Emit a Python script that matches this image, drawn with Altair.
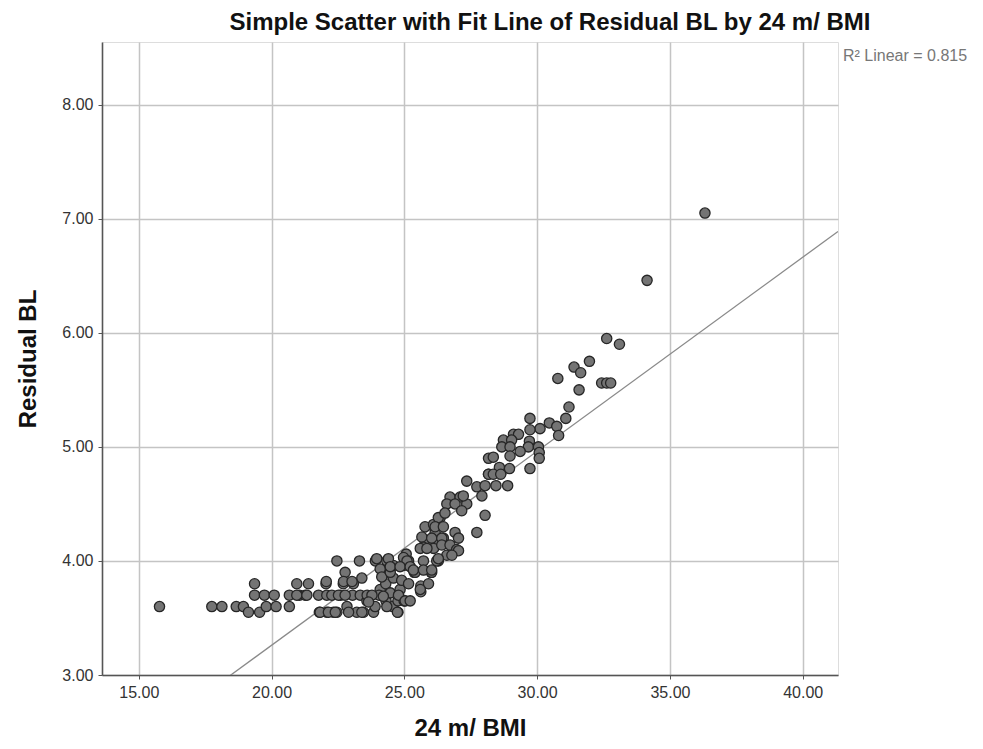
import altair as alt
import pandas as pd

# ---- data ----
bmi = [
    15.78, 17.75, 18.13, 18.67, 18.94, 19.13, 19.55, 19.36, 19.36, 19.73, 19.80, 20.10, 20.17, 20.67, 20.67,
    20.95, 21.05, 21.39, 21.27, 21.77, 21.80, 22.05, 22.08, 22.08, 22.33, 22.46, 22.46, 22.77, 22.60, 22.70,
    22.84, 23.05, 23.08, 23.31, 23.40, 23.21, 23.46, 23.34, 23.59, 23.60, 23.84, 23.90, 23.91, 24.09, 24.05,
    24.34, 24.30, 24.30, 24.31, 24.47, 24.59, 24.57, 24.76, 24.76, 24.84, 24.90, 24.97, 25.07, 25.16, 25.16,
    24.99, 25.37, 25.62, 25.62, 25.72, 26.01, 25.78, 25.66, 25.78, 26.10, 26.16, 26.10, 26.28, 26.35, 26.47,
    20.95, 21.33, 22.27, 22.52, 22.77, 23.78, 24.21, 24.78, 25.03, 21.83, 22.14, 22.40, 22.90, 23.40, 24.34,
    24.74, 23.65, 24.09, 24.15, 24.47, 24.59, 25.41, 26.03, 26.22, 25.91, 25.60, 25.22, 25.72, 26.10, 26.47,
    26.60, 22.71, 23.03, 22.06,
    27.35, 27.73, 28.04, 28.17, 28.17, 26.72, 27.10, 26.60, 26.91, 27.35, 27.16, 28.04, 26.28, 26.53, 27.73,
    26.16, 26.47, 26.03, 26.41, 26.91, 27.04, 25.60, 25.85, 26.41, 26.72, 26.97, 27.04, 26.79, 26.28, 24.97,
    25.10, 23.96, 24.40, 24.47, 24.84, 25.22, 25.34, 25.72, 26.03,
    32.62, 33.10, 31.97, 31.39, 31.64, 30.78, 32.43, 32.62, 32.77, 31.58, 31.20, 31.08, 29.73, 30.46, 30.11,
    29.73, 30.74, 30.81, 29.11, 29.30, 28.73, 29.04, 28.67, 28.98, 29.71, 29.67, 30.05, 30.08, 30.08, 29.36,
    28.98, 28.35, 28.58, 28.96, 29.73, 28.17, 28.35, 28.63, 28.89, 28.45, 27.92, 27.22,
    34.14, 36.32,
]
resid = [
    3.60, 3.60, 3.60, 3.60, 3.60, 3.55, 3.55, 3.80, 3.70, 3.70, 3.60, 3.70, 3.60, 3.70, 3.60,
    3.80, 3.70, 3.80, 3.70, 3.70, 3.55, 3.80, 3.70, 3.55, 3.55, 3.55, 4.00, 3.90, 3.70, 3.80,
    3.60, 3.70, 3.80, 4.00, 3.85, 3.55, 3.55, 3.70, 3.65, 3.70, 3.55, 3.60, 4.00, 3.75, 3.70,
    4.00, 3.90, 3.80, 3.65, 3.72, 3.85, 3.60, 3.55, 3.65, 3.75, 3.83, 3.96, 4.06, 4.00, 3.80,
    3.65, 3.90, 3.78, 3.73, 4.00, 3.90, 4.17, 4.21, 4.30, 4.32, 4.25, 4.16, 4.00, 4.38, 4.20,
    3.70, 3.70, 3.70, 3.70, 3.70, 3.70, 3.69, 3.70, 3.65, 3.55, 3.55, 3.55, 3.55, 3.55, 3.60,
    3.55, 3.64, 3.93, 3.86, 3.90, 3.96, 3.90, 3.90, 4.00, 3.80, 3.75, 3.65, 4.12, 4.11, 4.15,
    4.05, 3.82, 3.82, 3.82,
    4.70, 4.65, 4.66, 4.90, 4.76, 4.56, 4.56, 4.50, 4.50, 4.50, 4.44, 4.40, 4.38, 4.42, 4.25,
    4.30, 4.30, 4.20, 4.20, 4.25, 4.20, 4.11, 4.11, 4.14, 4.14, 4.10, 4.09, 4.05, 4.02, 4.03,
    4.00, 4.02, 4.02, 3.95, 3.95, 3.95, 3.92, 3.92, 3.92,
    5.95, 5.90, 5.75, 5.70, 5.65, 5.60, 5.56, 5.56, 5.56, 5.50, 5.35, 5.25, 5.25, 5.21, 5.16,
    5.15, 5.18, 5.10, 5.11, 5.11, 5.06, 5.06, 5.00, 5.00, 5.05, 5.00, 5.00, 4.95, 4.90, 4.96,
    4.92, 4.91, 4.82, 4.81, 4.81, 4.76, 4.76, 4.76, 4.66, 4.66, 4.57, 4.57,
    6.46, 7.05,
]

x_ticks = [15, 20, 25, 30, 35, 40]
y_ticks = [3, 4, 5, 6, 7, 8]
x_domain = [13.615, 41.33]
y_domain = [3.0, 8.55]
r2_text = "R\u00b2 Linear = 0.815"
title_text = "Simple Scatter with Fit Line of Residual BL by 24 m/ BMI"

df = pd.DataFrame({"bmi": bmi, "resid": resid})

FONT = "Liberation Sans"
W, H = 736, 633

axis_common = dict(
    format=".2f",
    labelFontSize=16, labelColor="#333333", labelFont=FONT,
    titleFontSize=24, titleFont=FONT, titleFontWeight="bold", titleColor="#111111",
    titleBaseline="alphabetic",
    tickSize=4, tickColor="#555555", domainColor="#555555", domainWidth=1.6,
    gridColor="#c4c4c4", gridWidth=1.5,
)

x_enc = alt.X(
    "bmi:Q",
    scale=alt.Scale(domain=x_domain, nice=False, zero=False),
    axis=alt.Axis(values=x_ticks, title="24 m/ BMI", labelPadding=5,
                  titleX=W / 2, titleY=60, titleAlign="center", **axis_common),
)
y_enc = alt.Y(
    "resid:Q",
    scale=alt.Scale(domain=y_domain, nice=False, zero=False),
    axis=alt.Axis(values=y_ticks, title="Residual BL", labelPadding=5,
                  titleX=-67, titleY=H / 2, titleAlign="center", titleAngle=270,
                  **axis_common),
)

base = alt.Chart(df)

points = base.mark_point(
    shape="circle", filled=True, size=105, fill="#747474", stroke="#262626",
    strokeWidth=1.3, opacity=1,
).encode(x=x_enc, y=y_enc)

fit = base.transform_regression(
    "bmi", "resid", extent=x_domain
).mark_line(color="#8a8a8a", strokeWidth=1.3, clip=True).encode(
    x=alt.X("bmi:Q"), y=alt.Y("resid:Q")
)

r2 = alt.Chart(pd.DataFrame({"t": [r2_text]})).mark_text(
    align="left", baseline="middle", fontSize=16, font=FONT, color="#777777"
).encode(x=alt.value(741), y=alt.value(14), text="t:N")

chart = alt.layer(fit, points, r2).properties(
    width=W,
    height=H,
    autosize=alt.AutoSizeParams(type="none"),
    padding={"left": 94, "top": 34, "right": 132, "bottom": 65},
    title=alt.TitleParams(
        title_text, anchor="middle", dx=80, offset=7, fontSize=24,
        font=FONT, fontWeight="bold", color="#111111",
    ),
).configure_view(stroke=None).configure(background="white")

chart.save("out.html", embed_options={"renderer": "svg", "actions": False})
